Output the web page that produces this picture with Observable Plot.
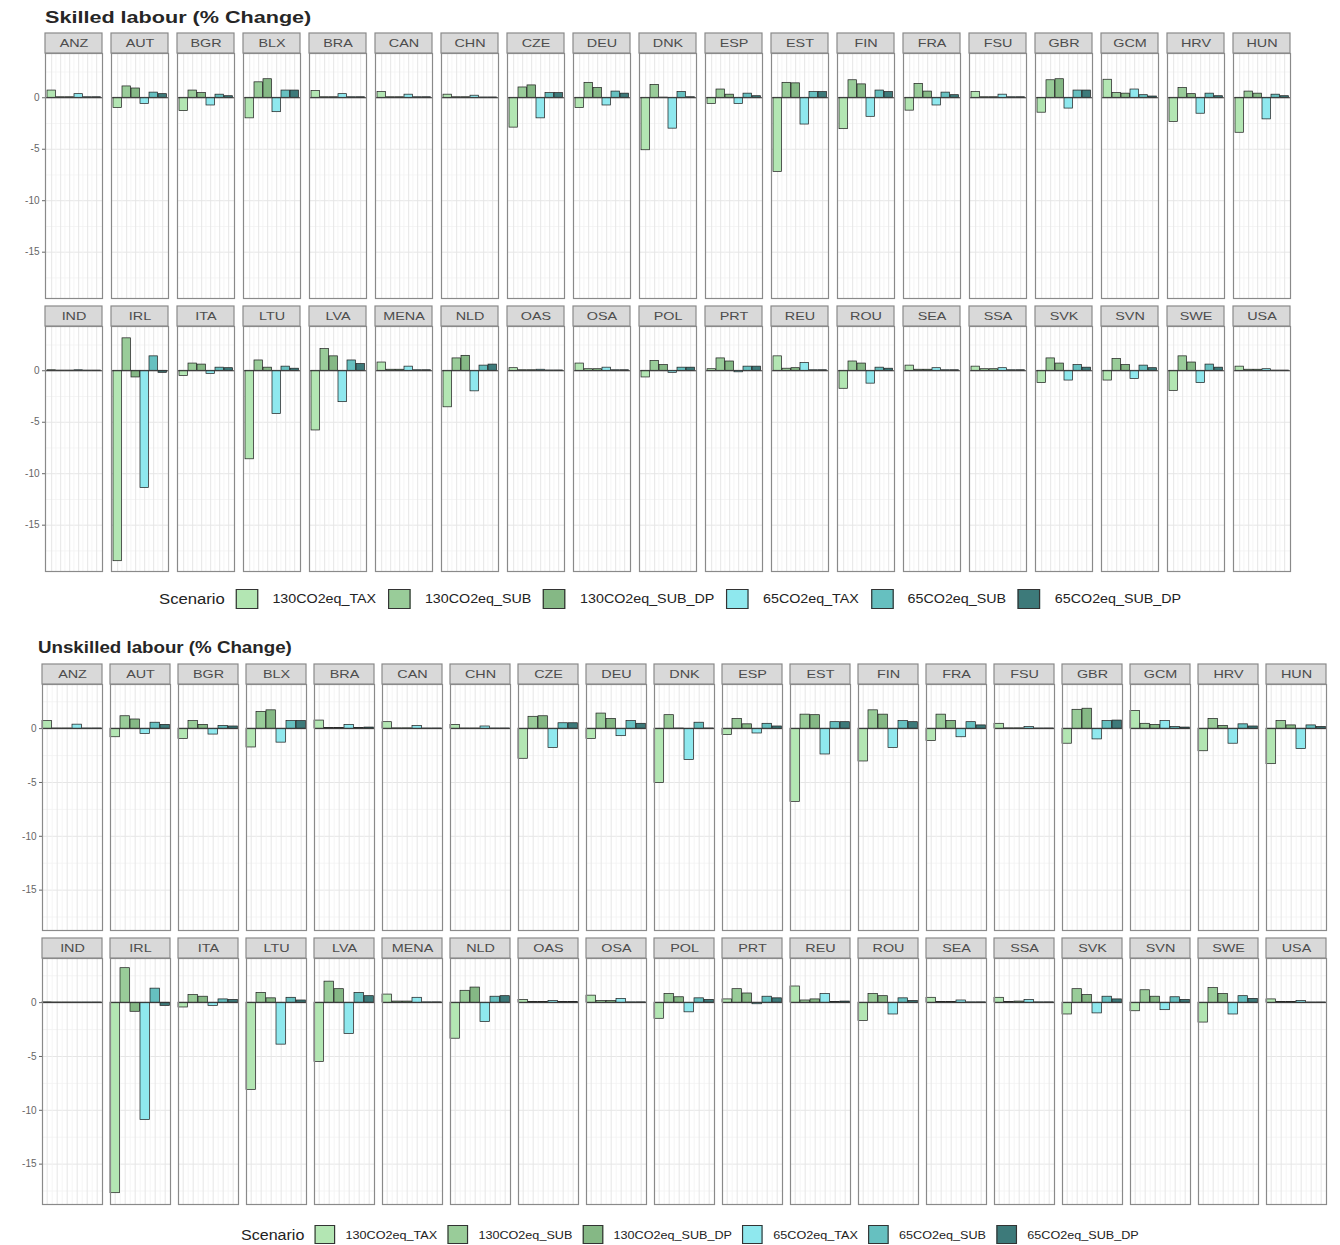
<!DOCTYPE html>
<html><head><meta charset="utf-8">
<script src="https://cdn.jsdelivr.net/npm/d3@7"></script>
<script src="https://cdn.jsdelivr.net/npm/@observablehq/plot@0.6"></script>
<style>
body{margin:0;background:#fff;font-family:"Liberation Sans",Arial,sans-serif;}
#page{position:relative;width:1340px;height:1245px;overflow:hidden;}
.title{position:absolute;color:#262626;white-space:nowrap;font-weight:bold;transform-origin:0 0;}
.chart{position:absolute;left:0;}
.legend{position:absolute;left:0;width:1340px;display:flex;justify-content:center;align-items:center;color:#222;transform-origin:670px 50%;}
.legend .item{display:flex;align-items:center;}
.legend .sw{border:1px solid #333;box-sizing:border-box;}
</style>
</head><body><div id="page"></div>
<script>
const scenarios = ["130CO2eq_TAX","130CO2eq_SUB","130CO2eq_SUB_DP","65CO2eq_TAX","65CO2eq_SUB","65CO2eq_SUB_DP"];
const colors = ["#b3e6b3","#99cc99","#85b885","#8fe8ee","#66c0c0","#3d7a7a"];
const regionsRow1 = ["ANZ","AUT","BGR","BLX","BRA","CAN","CHN","CZE","DEU","DNK","ESP","EST","FIN","FRA","FSU","GBR","GCM","HRV","HUN"];
const regionsRow2 = ["IND","IRL","ITA","LTU","LVA","MENA","NLD","OAS","OSA","POL","PRT","REU","ROU","SEA","SSA","SVK","SVN","SWE","USA"];
const yTicks = [0,-5,-10,-15];
const yMinor = [2.5,-2.5,-7.5,-12.5,-17.5];

// Skilled labour (% change), regions in order row1 then row2
const skTax130   = [0.7,-1.0,-1.3,-2.0,0.65,0.55,0.3,-2.9,-1.0,-5.1,-0.6,-7.2,-3.05,-1.25,0.55,-1.45,1.75,-2.35,-3.4,
                    0.05,-18.5,-0.5,-8.6,-5.8,0.8,-3.55,0.25,0.7,-0.65,0.15,1.4,-1.75,0.5,0.4,-1.2,-0.95,-1.95,0.4];
const skSub130   = [0.05,1.1,0.7,1.5,0.05,0.05,0.05,1.0,1.45,1.25,0.8,1.45,1.7,1.35,0.05,1.7,0.45,0.95,0.6,
                    0.02,3.15,0.7,1.0,2.1,0.1,1.2,0.05,0.15,0.95,1.2,0.2,0.9,0.1,0.15,1.2,1.15,1.4,0.1];
const skSubDp130 = [0.05,0.9,0.45,1.8,0.05,0.05,0.05,1.2,0.95,0.02,0.3,1.4,1.3,0.6,0.05,1.8,0.4,0.35,0.4,
                    0.02,-0.65,0.6,0.3,1.4,0.1,1.45,0.05,0.15,0.55,0.9,0.25,0.7,0.1,0.15,0.7,0.55,0.8,0.1];
const skTax65    = [0.35,-0.6,-0.75,-1.4,0.35,0.3,0.2,-2.0,-0.75,-3.0,-0.6,-2.6,-1.85,-0.75,0.3,-1.05,0.8,-1.55,-2.1,
                    0.05,-11.4,-0.3,-4.2,-3.05,0.4,-2.0,0.1,0.3,-0.2,-0.15,0.75,-1.25,0.25,0.25,-0.95,-0.8,-1.2,0.15];
const skSub65    = [0.05,0.5,0.3,0.7,0.05,0.05,0.03,0.45,0.6,0.55,0.4,0.55,0.7,0.5,0.05,0.7,0.25,0.4,0.3,
                    0.02,1.4,0.3,0.4,1.0,0.05,0.5,0.03,0.05,0.3,0.4,0.05,0.3,0.05,0.05,0.55,0.5,0.6,0.02];
const skSubDp65  = [0.05,0.35,0.15,0.7,0.05,0.05,0.03,0.45,0.4,0.05,0.15,0.55,0.55,0.25,0.05,0.7,0.12,0.15,0.15,
                    0.02,-0.2,0.25,0.2,0.65,0.05,0.6,0.03,0.05,0.3,0.4,0.05,0.2,0.05,0.05,0.3,0.25,0.3,0.02];

// Unskilled labour (% change)
const unTax130   = [0.7,-0.8,-0.95,-1.75,0.75,0.6,0.35,-2.8,-0.95,-5.05,-0.6,-6.8,-3.05,-1.15,0.45,-1.4,1.65,-2.1,-3.3,
                    0.03,-17.7,-0.45,-8.1,-5.5,0.75,-3.35,0.25,0.65,-1.5,0.3,1.5,-1.7,0.45,0.45,-1.1,-0.8,-1.85,0.3];
const unSub130   = [0.02,1.15,0.7,1.55,0.05,0.03,0.02,1.1,1.4,1.25,0.9,1.3,1.7,1.3,0.03,1.75,0.45,0.9,0.7,
                    0.02,3.2,0.7,0.9,1.95,0.1,1.1,0.05,0.15,0.8,1.25,0.2,0.8,0.05,0.05,1.25,1.15,1.35,0.05];
const unSubDp130 = [0.02,0.85,0.35,1.7,0.05,0.03,0.02,1.15,0.9,0.02,0.4,1.25,1.3,0.7,0.03,1.85,0.35,0.25,0.3,
                    0.02,-0.85,0.55,0.4,1.25,0.1,1.4,0.05,0.15,0.5,0.85,0.3,0.6,0.05,0.1,0.7,0.55,0.8,0.05];
const unTax65    = [0.37,-0.5,-0.55,-1.3,0.35,0.25,0.2,-1.8,-0.7,-2.9,-0.45,-2.4,-1.8,-0.8,0.15,-1.0,0.7,-1.4,-1.9,
                    0.02,-10.9,-0.3,-3.9,-2.9,0.45,-1.8,0.15,0.35,-0.9,-0.15,0.8,-1.1,0.2,0.25,-1.0,-0.7,-1.1,0.15];
const unSub65    = [0.02,0.55,0.25,0.7,0.05,0.02,0.02,0.5,0.7,0.55,0.45,0.6,0.7,0.6,0.02,0.7,0.15,0.4,0.3,
                    0.02,1.3,0.3,0.45,0.9,0.03,0.55,0.05,0.03,0.4,0.55,0.05,0.4,0.03,0.03,0.55,0.5,0.6,0.02];
const unSubDp65  = [0.02,0.35,0.2,0.7,0.1,0.02,0.02,0.5,0.45,0.02,0.2,0.6,0.6,0.3,0.02,0.75,0.1,0.2,0.15,
                    0.02,-0.3,0.25,0.2,0.6,0.03,0.6,0.05,0.03,0.25,0.4,0.1,0.15,0.03,0.03,0.3,0.25,0.35,0.02];

const regions = regionsRow1.concat(regionsRow2);
const ncol = regionsRow1.length;

function facetChart(series, o) {
  const data = [];
  regions.forEach((r, i) => scenarios.forEach((s, j) =>
    data.push({region: r, col: i % ncol, row: Math.floor(i / ncol), scenario: s, value: series[j][i]})));
  const regionData = regions.map((r, i) => ({region: r, col: i % ncol, row: Math.floor(i / ncol)}));
  // width of one bar band (derived from layout) for minor vertical grid lines
  const step = (1340 - o.ml - o.mr) / (ncol - o.fxPad);
  const barW = step * (1 - o.fxPad) / scenarios.length;
  return Plot.plot({
    width: 1340, height: o.height,
    marginTop: o.mt, marginLeft: o.ml, marginRight: o.mr, marginBottom: o.mb,
    style: {fontFamily: "Liberation Sans, Arial, sans-serif", background: "white"},
    fx: {domain: d3.range(ncol), paddingInner: o.fxPad, paddingOuter: 0, axis: null},
    fy: {domain: [0, 1], paddingInner: o.fyPad, paddingOuter: 0, axis: null},
    x: {domain: scenarios, padding: 0, axis: null},
    y: {domain: o.ydomain},
    color: {domain: scenarios, range: colors},
    marks: [
      Plot.ruleY(yMinor, {stroke: "#f3f3f3", strokeWidth: 0.8}),
      Plot.ruleY(yTicks, {stroke: "#e6e6e6", strokeWidth: 1}),
      Plot.ruleX(scenarios.slice(1), {stroke: "#f3f3f3", strokeWidth: 0.8, dx: -barW / 2}),
      Plot.ruleX(scenarios, {stroke: "#e6e6e6", strokeWidth: 1}),
      Plot.barY(data, {fx: "col", fy: "row", x: "scenario", y: "value", fill: "scenario",
                       stroke: "#1a1a1a", strokeWidth: 0.7, insetLeft: 0.3, insetRight: 0.3}),
      Plot.ruleY([0], {stroke: "#333", strokeWidth: 1}),
      Plot.frame({stroke: "#8a8a8a", strokeWidth: 1.2}),
      Plot.rect(regionData, {fx: "col", fy: "row", y1: () => o.ydomain[1], y2: () => o.ydomain[1],
                             insetTop: -o.strip, fill: "#d9d9d9", stroke: "#8a8a8a", strokeWidth: 1.2}),
      Plot.text(regionData, {fx: "col", fy: "row", text: "region", frameAnchor: "top", lineAnchor: "middle",
                             dy: -o.strip / 2, fontSize: o.stripFont, fill: "#4d4d4d"}),
      Plot.axisY({ticks: yTicks, tickFormat: d => String(d), tickSize: 3, tickPadding: 3, label: null,
                  fontSize: o.axisFont, fill: "#666", stroke: "#666"})
    ]
  });
}

function stretchStripText(svg, k) {
  svg.querySelectorAll('g[aria-label="text"] text').forEach(t => {
    const w = t.getComputedTextLength();
    t.setAttribute("textLength", w * k);
    t.setAttribute("lengthAdjust", "spacingAndGlyphs");
  });
}

function legend(top, fontLabel, fontItem, sw, gapItem, gapText, sx, shift) {
  const L = document.createElement("div");
  L.className = "legend";
  L.style.top = top + "px";
  L.style.transform = `translateX(${shift}px) scaleX(${sx})`;
  const t = document.createElement("span");
  t.textContent = "Scenario";
  t.style.fontSize = fontLabel + "px";
  t.style.marginRight = "9px";
  L.appendChild(t);
  scenarios.forEach((s, i) => {
    const it = document.createElement("div");
    it.className = "item";
    it.style.marginRight = gapItem + "px";
    const b = document.createElement("span");
    b.className = "sw";
    b.style.width = sw + "px"; b.style.height = (sw + 1) + "px";
    b.style.background = colors[i];
    b.style.marginRight = gapText + "px";
    const lab = document.createElement("span");
    lab.textContent = s;
    lab.style.fontSize = fontItem + "px";
    it.appendChild(b); it.appendChild(lab);
    L.appendChild(it);
  });
  return L;
}

const page = document.getElementById("page");

function addTitle(text, left, top, size, sx) {
  const d = document.createElement("div");
  d.className = "title";
  d.textContent = text;
  d.style.left = left + "px"; d.style.top = top + "px"; d.style.fontSize = size + "px";
  d.style.transform = `scaleX(${sx})`;
  page.appendChild(d);
}

addTitle("Skilled labour (% Change)", 45, 8, 17, 1.27);
const c1 = facetChart([skTax130, skSub130, skSubDp130, skTax65, skSub65, skSubDp65],
  {height: 547, mt: 23, ml: 44.3, mr: 50, mb: 6, fxPad: 0.136, fyPad: 0.1026,
   ydomain: [-19.5, 4.3], strip: 20, stripFont: 11.5, axisFont: 10});
const w1 = document.createElement("div"); w1.className = "chart"; w1.style.top = "30px";
w1.appendChild(c1); page.appendChild(w1);
stretchStripText(c1, 1.25);
page.appendChild(legend(589, 14, 12, 19, 10, 12, 1.19, 6));

addTitle("Unskilled labour (% Change)", 38, 639, 16, 1.17);
const c2 = facetChart([unTax130, unSub130, unSubDp130, unTax65, unSub65, unSubDp65],
  {height: 550, mt: 24, ml: 37.3, mr: 9.3, mb: 5, fxPad: 0.124, fyPad: 0.102,
   ydomain: [-18.75, 4.1], strip: 20, stripFont: 11.5, axisFont: 10});
const w2 = document.createElement("div"); w2.className = "chart"; w2.style.top = "660px";
w2.appendChild(c2); page.appendChild(w2);
stretchStripText(c2, 1.25);
page.appendChild(legend(1225, 14, 11, 18, 9, 9, 1.146, 25));
</script></body></html>
